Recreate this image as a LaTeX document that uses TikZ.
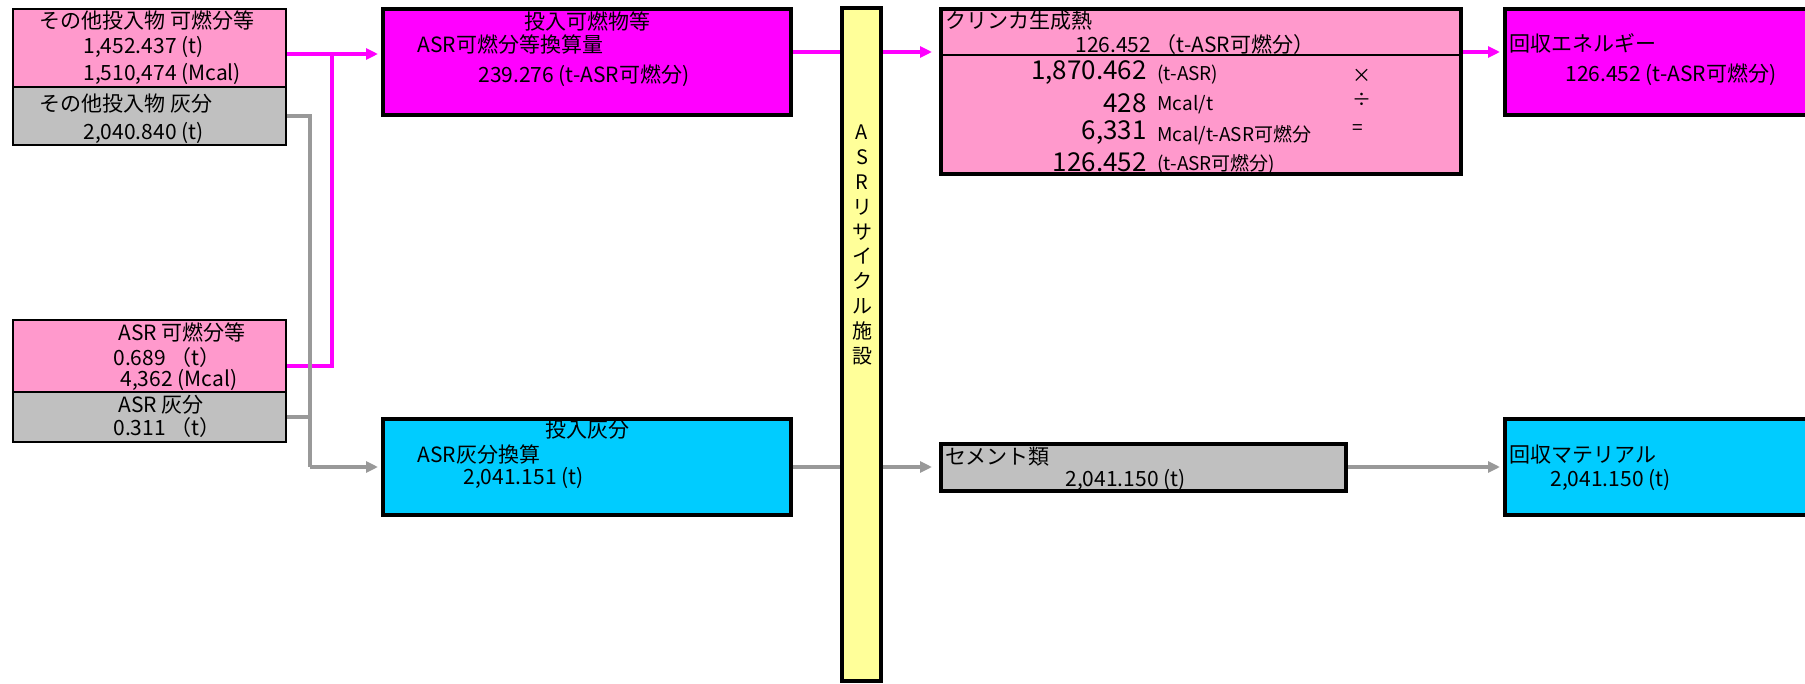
\documentclass[tikz,border=0pt]{standalone}
\usepackage{fontspec}
\setmainfont{Noto Sans CJK JP}
\usetikzlibrary{arrows.meta}
\definecolor{asrpink}{HTML}{FF99CC}
\definecolor{asrmag}{HTML}{FF00FF}
\definecolor{asrgray}{HTML}{C0C0C0}
\definecolor{asrcyan}{HTML}{00CCFF}
\definecolor{asryellow}{HTML}{FFFF99}
\definecolor{linegray}{HTML}{999999}
\tikzset{
	inbox/.style={draw=black, line width=1pt, inner sep=0, minimum width=136.5pt},
	mainbox/.style={draw=black, line width=2pt, inner sep=0},
	txt/.style={inner sep=0, font=\fontsize{10.5}{12}\selectfont},
	bigtxt/.style={inner sep=0, font=\fontsize{13}{15}\selectfont},
	smalltxt/.style={inner sep=0, font=\fontsize{9.5}{11}\selectfont},
	magline/.style={asrmag, line width=1.75pt},
	grayline/.style={linegray, line width=1.75pt},
	tip/.style={-{Triangle[length=6pt,width=5.5pt]}}
}
\begin{document}
\begin{tikzpicture}[x=0.5pt, y=-0.5pt]
	\useasboundingbox (0,0) rectangle (1805,684);
	\clip (0,0) rectangle (1805,684);
	% input boxes
	\node [inbox, fill=asrpink, minimum height=39pt] (otherComb) at (149.5,48) {};
	\node [inbox, fill=asrgray, minimum height=29pt] (otherAsh) at (149.5,116) {};
	\node [inbox, fill=asrpink, minimum height=36pt] (asrComb) at (149.5,356) {};
	\node [inbox, fill=asrgray, minimum height=25pt] (asrAsh) at (149.5,417) {};
	% main boxes
	\node [mainbox, fill=asrmag, minimum width=204pt, minimum height=53pt] (comb) at (587,62) {};
	\node [mainbox, fill=asrcyan, minimum width=204pt, minimum height=48pt] (ash) at (587,467) {};
	\node [mainbox, fill=asryellow, minimum width=19.5pt, minimum height=336.5pt] (bar) at (861.5,344.5) {};
	\node [mainbox, fill=asrpink, minimum width=260pt, minimum height=82.5pt] (clinker) at (1201,91.5) {};
	\node [mainbox, fill=asrgray, minimum width=202.5pt, minimum height=23.5pt] (cement) at (1143.5,467.5) {};
	\node [mainbox, fill=asrmag, minimum width=167.5pt, minimum height=53pt] (energy) at (1672.5,62) {};
	\node [mainbox, fill=asrcyan, minimum width=167.5pt, minimum height=48pt] (material) at (1672.5,467) {};
	\coordinate (divY) at (0,55);
	\draw [line width=1pt] (clinker.west |- divY) -- (clinker.east |- divY);
	% input texts
	\node [txt, anchor=west] (otherCombT) at (39,21) {その他投入物 可燃分等};
	\node [txt, anchor=west] (otherCombA) at (83,47) {1,452.437 (t)};
	\node [txt, anchor=west] (otherCombB) at (83,74) {1,510,474 (Mcal)};
	\node [txt, anchor=west] (otherAshT) at (39,104) {その他投入物 灰分};
	\node [txt, anchor=west] (otherAshA) at (83,133) {2,040.840 (t)};
	\node [txt, anchor=west] (asrCombT) at (118,333) {ASR 可燃分等};
	\node [txt, anchor=west] (asrCombA) at (113,358) {0.689 （t）};
	\node [txt, anchor=west] (asrCombB) at (120,380) {4,362 (Mcal)};
	\node [txt, anchor=west] (asrAshT) at (118,405) {ASR 灰分};
	\node [txt, anchor=west] (asrAshA) at (113,428) {0.311 （t）};
	% main texts
	\node [txt] (combT) at (587,21) {投入可燃物等};
	\node [txt, anchor=west] (combA) at (417,45) {ASR可燃分等換算量};
	\node [txt, anchor=west] (combB) at (478,76) {239.276 (t-ASR可燃分)};
	\node [txt] (ashT) at (587,430) {投入灰分};
	\node [txt, anchor=west] (ashA) at (417,455) {ASR灰分換算};
	\node [txt, anchor=west] (ashB) at (463,478) {2,041.151 (t)};
	\node [align=center, inner sep=0, font=\fontsize{10}{12.45}\selectfont] (barT) at (862,245) {A\\S\\R\\リ\\サ\\イ\\ク\\ル\\施\\設};
	\node [txt, anchor=west] (clinkerT) at (945,21) {クリンカ生成熱};
	\node [txt, anchor=west] (clinkerA) at (1075,45) {126.452 （t-ASR可燃分）};
	\node [bigtxt, anchor=east] (clinkerN1) at (1147,73) {1,870.462};
	\node [smalltxt, anchor=west] (clinkerU1) at (1157,75) {(t-ASR)};
	\node [bigtxt, anchor=east] (clinkerN2) at (1147,103) {428};
	\node [smalltxt, anchor=west] (clinkerU2) at (1157,105) {Mcal/t};
	\node [bigtxt, anchor=east] (clinkerN3) at (1147,133) {6,331};
	\node [smalltxt, anchor=west] (clinkerU3) at (1157,135) {Mcal/t-ASR可燃分};
	\node [bigtxt, anchor=east] (clinkerN4) at (1147,162) {126.452};
	\node [smalltxt, anchor=west] (clinkerU4) at (1157,164) {(t-ASR可燃分)};
	\foreach \op/\xx/\yy [count=\i] in {×/1362/76, ÷/1362/100, =/1358/130}
		\node [smalltxt] (op\i) at (\xx,\yy) {\op};
	\node [txt, anchor=west] (cementT) at (945,457) {セメント類};
	\node [txt, anchor=west] (cementA) at (1065,480) {2,041.150 (t)};
	\node [txt, anchor=west] (energyT) at (1509,43) {回収エネルギー};
	\node [txt, anchor=west] (energyA) at (1565,75) {126.452 (t-ASR可燃分)};
	\node [txt, anchor=west] (materialT) at (1509,455) {回収マテリアル};
	\node [txt, anchor=west] (materialA) at (1550,480) {2,041.150 (t)};
	% connectors
	\coordinate (jc) at (332,54);
	\coordinate (ja) at (332,366);
	\coordinate (jg) at (310,467);
	\coordinate (topY) at (0,52);
	\draw [magline, tip, shorten >=1.5pt] (otherComb.east |- jc) -- (comb.west |- jc);
	\draw [magline] (asrComb.east |- ja) -- (ja) -- (jc);
	\draw [grayline] (otherAsh.east) -| (jg);
	\draw [grayline] (asrAsh.east) -- (asrAsh.east -| jg);
	\draw [grayline, tip, shorten >=1.5pt] (jg) -- (ash.west);
	\draw [magline] (comb.east |- topY) -- (bar.west |- topY);
	\draw [magline, tip, shorten >=3.5pt] (bar.east |- topY) -- (clinker.west |- topY);
	\draw [magline, tip, shorten >=1.5pt] (clinker.east |- topY) -- (energy.west |- topY);
	\draw [grayline] (ash.east) -- (bar.west |- ash.east);
	\draw [grayline, tip, shorten >=3.5pt] (bar.east |- ash.east) -- (cement.west |- ash.east);
	\draw [grayline, tip, shorten >=1.5pt] (cement.east |- ash.east) -- (material.west |- ash.east);
\end{tikzpicture}
\end{document}
